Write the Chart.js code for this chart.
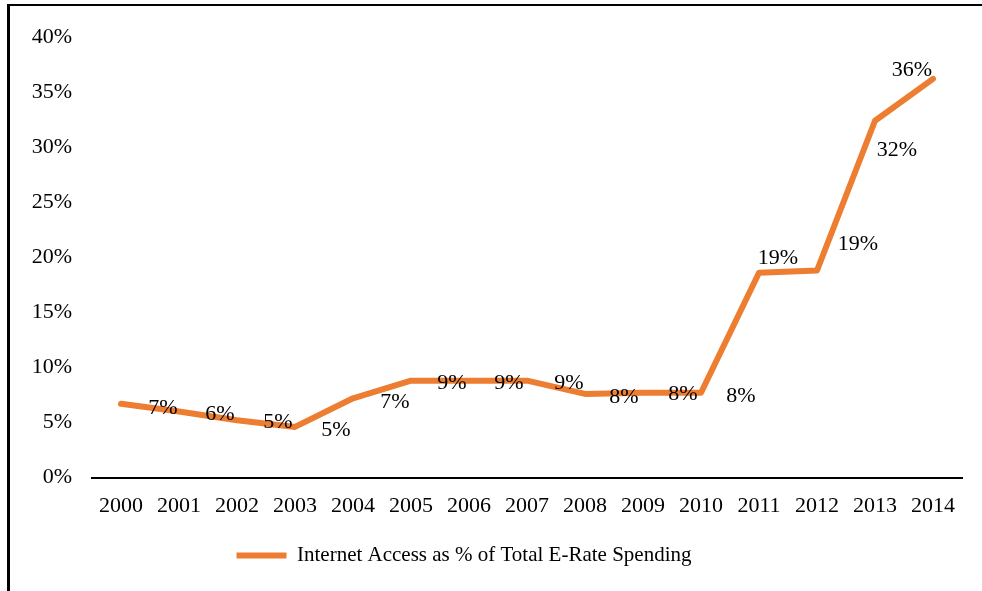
<!DOCTYPE html>
<html>
<head>
<meta charset="utf-8">
<script src="https://cdn.jsdelivr.net/npm/chart.js@4.4.1/dist/chart.umd.min.js"></script>
<style>
  html, body { margin: 0; padding: 0; background: #fff; }
  #wrap { position: relative; width: 982px; height: 591px; }
  #frame {
    position: absolute; left: 7px; top: 4px; right: 0; bottom: 0;
    border-left: 3px solid #000; border-top: 2px solid #000;
    pointer-events: none;
  }
</style>
</head>
<body>
<div id="wrap">
  <canvas id="chart" width="982" height="591"></canvas>
  <div id="frame"></div>
</div>
<script>
const years = ['2000', '2001', '2002', '2003', '2004', '2005', '2006', '2007',
               '2008', '2009', '2010', '2011', '2012', '2013', '2014'];
const internetShare = [6.7, 6.0, 5.2, 4.6, 7.2, 8.8, 8.8, 8.8,
                       7.6, 7.7, 7.7, 18.6, 18.8, 32.4, 36.2];
const seriesName = 'Internet Access as % of Total E-Rate Spending';

const orange = '#ED7D31';
const serif = "'Liberation Serif', 'Times New Roman', serif";

// where each value label sits relative to its point (px)
const labelShift = [
  [42, 4], [41, 3], [41, 2], [41, 3], [42, 4], [41, 3], [40, 3], [42, 3],
  [39, 3], [40, 1], [40, 3], [19, -15], [41, -26], [22, 30], [-21, -9]
];

const valueLabels = {
  id: 'valueLabels',
  afterDatasetsDraw(chart) {
    const ctx = chart.ctx;
    const meta = chart.getDatasetMeta(0);
    ctx.save();
    ctx.font = '22px ' + serif;
    ctx.fillStyle = '#000';
    ctx.textAlign = 'center';
    ctx.textBaseline = 'middle';
    meta.data.forEach((pt, i) => {
      const s = labelShift[i];
      ctx.fillText(Math.round(internetShare[i]) + '%', pt.x + s[0], pt.y + s[1]);
    });
    ctx.restore();
  }
};

// legend in the original sits a bit left of centre
const legendShift = {
  id: 'legendShift',
  afterLayout(chart) {
    chart.legend.left -= 22;
    chart.legend.right -= 22;
  }
};

const ctx = document.getElementById('chart').getContext('2d');
const chart = new Chart(ctx, {
  type: 'line',
  data: {
    labels: years,
    datasets: [{
      label: seriesName,
      data: internetShare,
      borderColor: orange,
      backgroundColor: orange,
      borderWidth: 6,
      borderCapStyle: 'round',
      borderJoinStyle: 'round',
      pointRadius: 0,
      tension: 0,
      fill: false
    }]
  },
  options: {
    responsive: false,
    animation: false,
    layout: { padding: { left: 10, right: 20, top: 37, bottom: 15 } },
    plugins: {
      tooltip: { enabled: false },
      legend: {
        position: 'bottom',
        labels: {
          color: '#000',
          font: { family: serif, size: 21 },
          boxWidth: 50,
          boxHeight: 6,
          useBorderRadius: true,
          borderRadius: 3,
          padding: 11,
          generateLabels(c) {
            return [{
              text: seriesName,
              fillStyle: orange,
              strokeStyle: orange,
              lineWidth: 0,
              datasetIndex: 0
            }];
          }
        }
      }
    },
    scales: {
      x: {
        offset: true,
        grid: { display: false, drawTicks: false },
        border: { display: true, color: '#000', width: 2 },
        ticks: {
          color: '#000',
          font: { family: serif, size: 22 },
          padding: 15,
          maxRotation: 0,
          autoSkip: false
        }
      },
      y: {
        min: 0,
        max: 40,
        grid: { display: false, drawTicks: false },
        border: { display: false },
        ticks: {
          stepSize: 5,
          color: '#000',
          font: { family: serif, size: 22 },
          padding: 20,
          callback: v => v + '%'
        },
        afterFit(scale) { scale.width = 82; }
      }
    }
  },
  plugins: [valueLabels, legendShift]
});
</script>
</body>
</html>
